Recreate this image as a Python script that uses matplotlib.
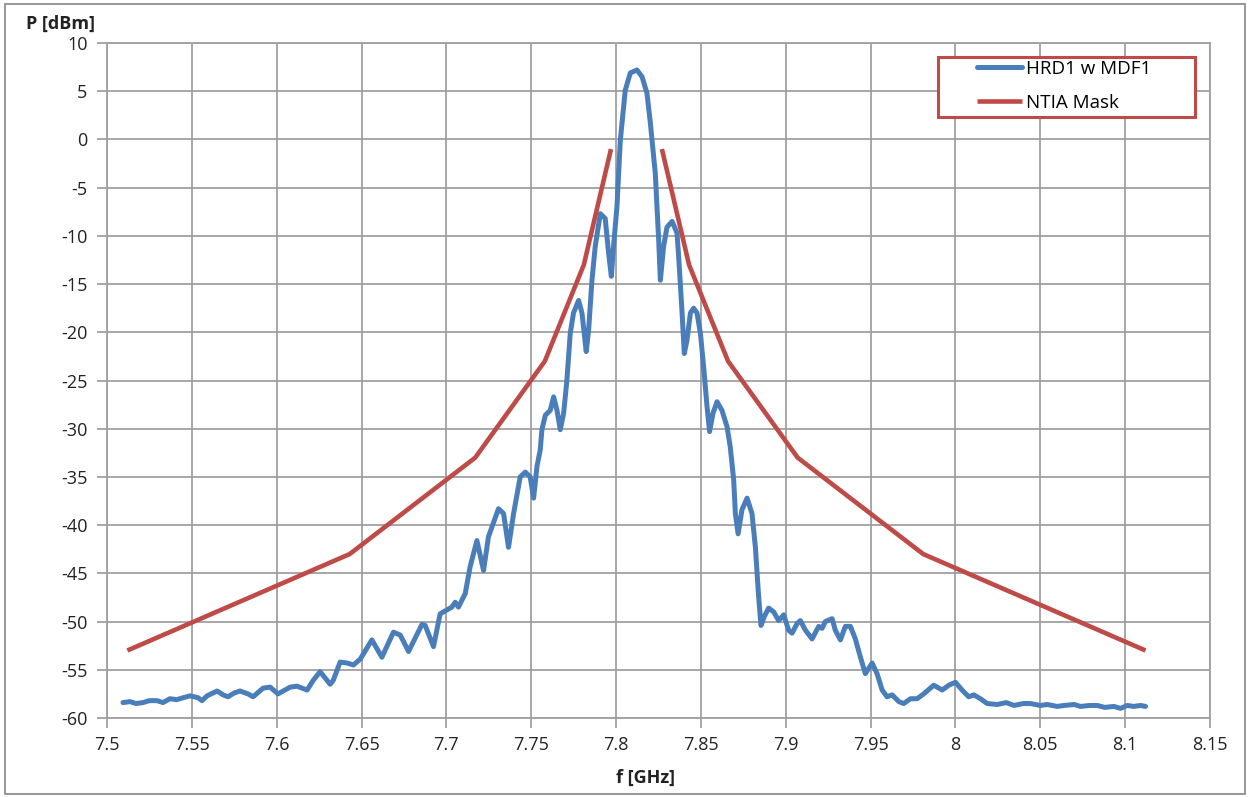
import numpy as np
import matplotlib.pyplot as plt
from matplotlib.patches import Rectangle
from matplotlib.ticker import FuncFormatter, MultipleLocator

plt.rcParams['font.family'] = ['Open Sans', 'DejaVu Sans']

f_meas = [7.5094, 7.5136, 7.5170, 7.5212, 7.5250, 7.5295, 7.5330, 7.5371, 7.5410, 7.5448,
          7.5489, 7.5537, 7.5560, 7.5590, 7.5649, 7.5684, 7.5713, 7.5750, 7.5784, 7.5831,
          7.5861, 7.5920, 7.5961, 7.6008, 7.6079, 7.6120, 7.6179, 7.6215, 7.6256, 7.6315,
          7.6333, 7.6374, 7.6415, 7.6452, 7.6492, 7.6561, 7.6620, 7.6688, 7.6728, 7.6777,
          7.6856, 7.6875, 7.6924, 7.6963, 7.7003, 7.7032, 7.7052, 7.7071, 7.7111, 7.7140,
          7.7180, 7.7219, 7.7248, 7.7307, 7.7337, 7.7366, 7.7396, 7.7435, 7.7465, 7.7494,
          7.7514, 7.7534, 7.7553, 7.7563, 7.7583, 7.7612, 7.7632, 7.7652, 7.7671, 7.7691,
          7.7710, 7.7730, 7.7749, 7.7779, 7.7799, 7.7824, 7.7838, 7.7858, 7.7877, 7.7907,
          7.7936, 7.7956, 7.7972, 7.7985, 7.8005, 7.8025, 7.8054, 7.8084, 7.8123, 7.8153,
          7.8182, 7.8202, 7.8231, 7.8251, 7.8261, 7.8280, 7.8300, 7.8330, 7.8359, 7.8369,
          7.8389, 7.8402, 7.8418, 7.8438, 7.8457, 7.8477, 7.8497, 7.8516, 7.8536, 7.8551,
          7.8571, 7.8595, 7.8624, 7.8654, 7.8673, 7.8693, 7.8703, 7.8719, 7.8742, 7.8772,
          7.8801, 7.8821, 7.8840, 7.8854, 7.8873, 7.8899, 7.8929, 7.8958, 7.8988, 7.9017,
          7.9037, 7.9067, 7.9086, 7.9116, 7.9155, 7.9194, 7.9214, 7.9233, 7.9273, 7.9292,
          7.9322, 7.9351, 7.9381, 7.9410, 7.9440, 7.9469, 7.9509, 7.9538, 7.9568, 7.9597,
          7.9627, 7.9666, 7.9695, 7.9735, 7.9774, 7.9813, 7.9872, 7.9922, 7.9961, 8.0000,
          8.0039, 8.0078, 8.0108, 8.0147, 8.0187, 8.0246, 8.0300, 8.0344, 8.0400, 8.0442,
          8.0500, 8.0541, 8.0600, 8.0639, 8.0700, 8.0737, 8.0790, 8.0835, 8.0880, 8.0934,
          8.0973, 8.1012, 8.1050, 8.1091, 8.1120]
p_meas = [-58.4, -58.3, -58.5, -58.4, -58.2, -58.2, -58.4, -58.0, -58.1, -57.9,
          -57.7, -57.9, -58.2, -57.7, -57.2, -57.6, -57.8, -57.4, -57.2, -57.5,
          -57.8, -56.9, -56.8, -57.5, -56.8, -56.7, -57.1, -56.1, -55.2, -56.5,
          -56.1, -54.2, -54.3, -54.5, -53.9, -51.9, -53.7, -51.1, -51.4, -53.1,
          -50.3, -50.4, -52.6, -49.2, -48.8, -48.5, -48.0, -48.5, -47.1, -44.3,
          -41.6, -44.7, -41.2, -38.3, -38.8, -42.3, -38.8, -35.0, -34.5, -35.0,
          -37.2, -33.9, -32.2, -30.1, -28.6, -28.1, -26.7, -28.1, -30.1, -28.4,
          -25.0, -20.1, -18.0, -16.7, -18.0, -22.0, -19.8, -14.6, -11.1, -7.7,
          -8.2, -11.8, -14.2, -11.1, -7.0, -0.1, 5.1, 6.9, 7.2, 6.5,
          4.8, 1.7, -3.5, -10.4, -14.6, -11.1, -9.1, -8.5, -9.7, -12.2,
          -18.0, -22.2, -20.8, -18.0, -17.5, -18.0, -20.1, -23.6, -27.7, -30.3,
          -28.4, -27.2, -28.1, -29.8, -31.9, -35.3, -38.8, -40.9, -38.4, -37.2,
          -38.8, -42.3, -47.4, -50.4, -49.5, -48.6, -49.0, -49.9, -49.3, -50.9,
          -51.2, -50.2, -49.9, -50.9, -51.8, -50.5, -50.7, -50.0, -49.7, -50.9,
          -51.9, -50.5, -50.5, -51.8, -53.7, -55.4, -54.3, -55.4, -57.1, -57.8,
          -57.6, -58.3, -58.5, -58.0, -58.0, -57.5, -56.6, -57.1, -56.6, -56.3,
          -57.1, -57.8, -57.6, -58.0, -58.5, -58.6, -58.4, -58.7, -58.5, -58.5,
          -58.7, -58.6, -58.8, -58.7, -58.6, -58.8, -58.7, -58.7, -58.9, -58.8,
          -59.0, -58.7, -58.8, -58.7, -58.8]

## NTIA mask, two branches (gap across the main lobe)
f_mask_lo = [7.512, 7.643, 7.717, 7.758, 7.781, 7.797]
p_mask_lo = [-53, -43, -33, -23, -13, -1]
f_mask_hi = [7.827, 7.843, 7.866, 7.907, 7.981, 8.112]
p_mask_hi = [-1, -13, -23, -33, -43, -53]

blue = '#4A7EBB'
red = '#BE4B48'
W, H = 1251, 797

fig = plt.figure(figsize=(W / 100, H / 100), dpi=100)
ax = fig.add_axes([107 / W, 1 - 718 / H, (1210 - 107) / W, (718 - 43) / H])

ax.plot(f_meas, p_meas, color=blue, lw=3.6, solid_joinstyle='round', solid_capstyle='round',
        label='HRD1 w MDF1', zorder=3)
ax.plot(f_mask_lo, p_mask_lo, color=red, lw=3.3, solid_capstyle='butt', label='NTIA Mask', zorder=3)
ax.plot(f_mask_hi, p_mask_hi, color=red, lw=3.3, solid_capstyle='butt', zorder=3)

ax.set_xlim(7.5, 8.15)
ax.set_ylim(-60, 10)
ax.xaxis.set_major_locator(MultipleLocator(0.05))
ax.yaxis.set_major_locator(MultipleLocator(5))
ax.xaxis.set_major_formatter(FuncFormatter(lambda v, pos: '%g' % round(v, 2)))
ax.yaxis.set_major_formatter(FuncFormatter(lambda v, pos: '%g' % v))
ax.grid(True, color='#A0A0A0', lw=1.3)
ax.set_axisbelow(True)
for s in ax.spines.values():
    s.set_color('#A0A0A0')
    s.set_linewidth(1.3)
ax.tick_params(axis='both', labelsize=13, colors='#A0A0A0', labelcolor='#222222', width=1.3)
ax.tick_params(axis='y', length=7, pad=7)
ax.tick_params(axis='x', length=7, pad=6)

fig.text(26 / W, 1 - 24 / H, 'P [dBm]', fontsize=13, fontweight='bold', va='center', ha='left', color='#222222')
fig.text(645 / W, 1 - 778 / H, 'f [GHz]', fontsize=13, fontweight='bold', va='center', ha='center', color='#222222')

# legend box
ax.add_patch(Rectangle((938 / W, 1 - 117 / H), (1195 - 938) / W, 60 / H, transform=fig.transFigure,
                       facecolor='white', edgecolor=red, lw=2.2, clip_on=False, zorder=4))
leg = ax.legend(loc='center', bbox_to_anchor=(1064 / W, 1 - 86 / H), bbox_transform=fig.transFigure,
                frameon=False, fontsize=13.5, handlelength=2.4, handletextpad=0.25, labelspacing=0.85)
leg.set_zorder(5)

# outer chart border
fig.patches.append(Rectangle((5 / W, 3 / H), (1245 - 5) / W, (793 - 3) / H, transform=fig.transFigure,
                             facecolor='none', edgecolor='#909090', lw=1.3))

fig.savefig('out.png', dpi=100)
